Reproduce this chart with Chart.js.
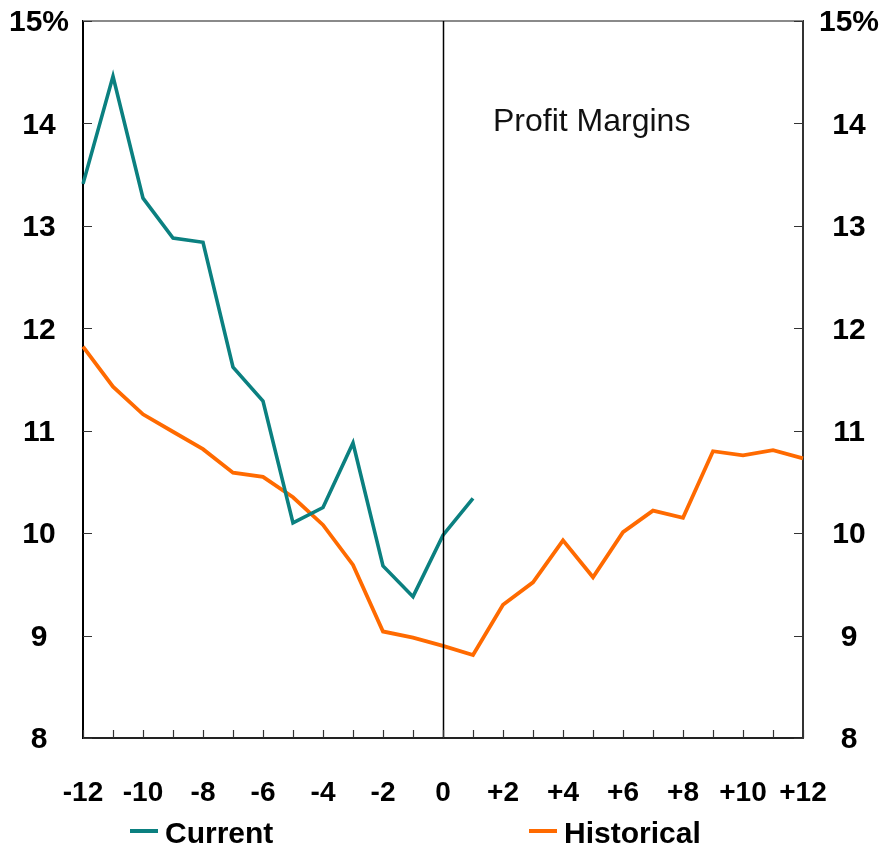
<!DOCTYPE html>
<html>
<head>
<meta charset="utf-8">
<script src="https://cdn.jsdelivr.net/npm/chart.js@4/dist/chart.umd.min.js"></script>
<style>
html,body{margin:0;padding:0;background:#fff;}
#wrap{width:879px;height:846px;}
</style>
</head>
<body>
<div id="wrap"><canvas id="c" width="879" height="846"></canvas></div>
<script>
const categories = ['-12','-11','-10','-9','-8','-7','-6','-5','-4','-3','-2','-1','0','+1','+2','+3','+4','+5','+6','+7','+8','+9','+10','+11','+12'];
const currentValues = [13.41,14.46,13.27,12.88,12.84,11.62,11.29,10.10,10.25,10.88,9.68,9.38,9.98,10.34,null,null,null,null,null,null,null,null,null,null,null];
const historicalValues = [11.82,11.43,11.16,10.99,10.82,10.59,10.55,10.35,10.08,9.69,9.04,8.98,8.90,8.81,9.30,9.52,9.93,9.57,10.01,10.22,10.15,10.80,10.76,10.81,10.73];
const yTickLabels = {15:'15%',14:'14',13:'13',12:'12',11:'11',10:'10',9:'9',8:'8'};
const seriesNames = ['Current','Historical'];
const seriesColors = ['#0b8080','#ff6a00'];
const annotationText = 'Profit Margins';

const FONT = "'Liberation Sans', Arial, sans-serif";

const decor = {
  id:'decor',
  afterDatasetsDraw(chart){
    const {ctx, chartArea:a, scales} = chart;
    const x = scales.x, yl = scales.y, yr = scales.y2;
    ctx.save();
    ctx.strokeStyle = '#8a8a8a'; ctx.lineWidth = 2;
    ctx.beginPath(); ctx.moveTo(a.left, a.top); ctx.lineTo(a.right, a.top); ctx.stroke();
    const zx = Math.round(x.getPixelForValue(categories.indexOf('0'))) + 0.5;
    ctx.strokeStyle = '#000'; ctx.lineWidth = 1.5;
    ctx.beginPath(); ctx.moveTo(zx, a.top); ctx.lineTo(zx, a.bottom); ctx.stroke();
    ctx.strokeStyle = '#333'; ctx.lineWidth = 1.2;
    ctx.beginPath();
    yl.ticks.forEach(t=>{const py=Math.round(yl.getPixelForValue(t.value))+0.5; ctx.moveTo(a.left, py); ctx.lineTo(a.left+9, py);});
    yr.ticks.forEach(t=>{const py=Math.round(yr.getPixelForValue(t.value))+0.5; ctx.moveTo(a.right, py); ctx.lineTo(a.right-9, py);});
    categories.forEach((c,i)=>{const px=Math.round(x.getPixelForValue(i))+0.5; ctx.moveTo(px, a.bottom); ctx.lineTo(px, a.bottom-8);});
    ctx.stroke();
    ctx.fillStyle = '#111';
    ctx.font = "32px " + FONT;
    ctx.textBaseline = 'alphabetic';
    ctx.textAlign = 'left';
    ctx.fillText(annotationText, a.left + 410, a.top + 110);
    ctx.font = "bold 30px " + FONT;
    const ly = 831;
    const legendX = [130, 529];
    chart.data.datasets.forEach((ds,i)=>{
      const lx = legendX[i];
      ctx.strokeStyle = ds.borderColor; ctx.lineWidth = 4;
      ctx.beginPath(); ctx.moveTo(lx, ly); ctx.lineTo(lx+28, ly); ctx.stroke();
      ctx.fillStyle = '#000';
      ctx.fillText(ds.label, lx + 35, ly + 12);
    });
    ctx.restore();
  }
};

function fixY(width){
  return function(s){ s.width = width; s.paddingTop = 0; s.paddingBottom = 0; };
}

new Chart(document.getElementById('c'), {
  type:'line',
  data:{
    labels: categories,
    datasets:[
      {label: seriesNames[0], data: currentValues, borderColor: seriesColors[0], backgroundColor: seriesColors[0], borderWidth:3.6, pointRadius:0, tension:0, spanGaps:false},
      {label: seriesNames[1], data: historicalValues, borderColor: seriesColors[1], backgroundColor: seriesColors[1], borderWidth:3.8, pointRadius:0, tension:0}
    ]
  },
  options:{
    responsive:false,
    animation:false,
    layout:{padding:{top:21, left:0, right:0, bottom:0}},
    plugins:{legend:{display:false}, tooltip:{enabled:false}},
    scales:{
      x:{
        type:'category', offset:false,
        grid:{display:false, drawTicks:false},
        border:{display:true, color:'#222', width:2},
        ticks:{autoSkip:false, maxRotation:0, minRotation:0, padding:38, color:'#000',
          font:{family:FONT, size:28, weight:'bold'},
          callback:function(v,i){ return i % 2 === 0 ? categories[i] : ''; }},
        afterFit(s){ s.height = 108; s.paddingLeft = 0; s.paddingRight = 0; }
      },
      y:{
        position:'left', min:8, max:15,
        grid:{display:false, drawTicks:false},
        border:{display:true, color:'#000', width:2},
        ticks:{stepSize:1, padding:14, crossAlign:'center', labelOffset:2, color:'#000',
          font:{family:FONT, size:30, weight:'bold'},
          callback:v=>yTickLabels[v] ?? ''},
        afterFit: fixY(83)
      },
      y2:{
        position:'right', min:8, max:15,
        grid:{display:false, drawTicks:false},
        border:{display:true, color:'#333', width:2},
        ticks:{stepSize:1, padding:16, crossAlign:'center', labelOffset:2, color:'#000',
          font:{family:FONT, size:30, weight:'bold'},
          callback:v=>yTickLabels[v] ?? ''},
        afterFit: fixY(76)
      }
    }
  },
  plugins:[decor]
});
</script>
</body>
</html>
